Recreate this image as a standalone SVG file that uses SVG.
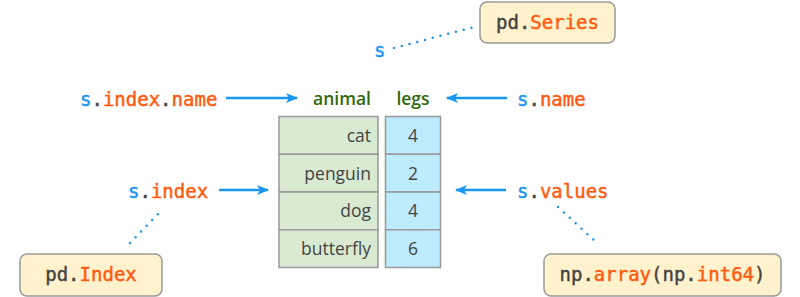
<svg xmlns="http://www.w3.org/2000/svg" width="800" height="297" viewBox="0 0 800 297">
<style>
.code{font-family:"DejaVu Sans Mono","Liberation Mono",monospace;font-size:19px;stroke-width:0.45}
.b{fill:#1a96f0;stroke:#1a96f0}.d{fill:#444;stroke:#444}.o{fill:#ff5a0f;stroke:#ff5a0f}
.hdr{font-family:"Open Sans","Noto Sans",sans-serif;font-size:17.5px;font-weight:600;fill:#2f6a0b}
.cell{font-family:"Open Sans","Noto Sans",sans-serif;font-size:17.5px;fill:#444}
.idx{fill:#d9ead3;stroke:#999;stroke-width:1.5}
.val{fill:#bdebff;stroke:#999;stroke-width:1.5}
.box{fill:#fff2cc;stroke:#999;stroke-width:1.5}
.arr{stroke:#1a96f0;stroke-width:2.5;fill:none}
.dot{stroke:#1a96f0;stroke-width:2.5;fill:none;stroke-dasharray:0 8;stroke-linecap:round}
</style>
<defs>
<marker id="ah" viewBox="0 0 12 10" refX="11" refY="5" markerWidth="12" markerHeight="10" markerUnits="userSpaceOnUse" orient="auto">
<path d="M0,0 L12,5 L0,10 L3,5 Z" fill="#1a96f0"/>
</marker>
</defs>
<g id="connectors">
<line class="arr" x1="226" y1="98" x2="297" y2="98" marker-end="url(#ah)"/>
<line class="arr" x1="507" y1="98" x2="447" y2="98" marker-end="url(#ah)"/>
<line class="arr" x1="219" y1="190" x2="268" y2="190" marker-end="url(#ah)"/>
<line class="arr" x1="506" y1="190" x2="456" y2="190" marker-end="url(#ah)"/>
<line class="dot" x1="394" y1="48" x2="474" y2="27"/>
<line class="dot" x1="130" y1="243" x2="158" y2="214"/>
<line class="dot" x1="558" y1="207" x2="597" y2="243"/>
</g>
<g id="table">
<rect class="idx" x="279" y="116.5" width="99" height="37.75"/>
<rect class="idx" x="279" y="154.25" width="99" height="37.75"/>
<rect class="idx" x="279" y="192" width="99" height="37.75"/>
<rect class="idx" x="279" y="229.75" width="99" height="37.75"/>
<rect class="val" x="385.5" y="116.5" width="55" height="37.75"/>
<rect class="val" x="385.5" y="154.25" width="55" height="37.75"/>
<rect class="val" x="385.5" y="192" width="55" height="37.75"/>
<rect class="val" x="385.5" y="229.75" width="55" height="37.75"/>
<text class="cell" x="371" y="141.5" text-anchor="end">cat</text>
<text class="cell" x="371" y="179.5" text-anchor="end">penguin</text>
<text class="cell" x="371" y="217" text-anchor="end">dog</text>
<text class="cell" x="371" y="255" text-anchor="end">butterfly</text>
<text class="cell" x="413" y="141.5" text-anchor="middle">4</text>
<text class="cell" x="413" y="179.5" text-anchor="middle">2</text>
<text class="cell" x="413" y="217" text-anchor="middle">4</text>
<text class="cell" x="413" y="255" text-anchor="middle">6</text>
<text class="hdr" x="342" y="105" text-anchor="middle">animal</text>
<text class="hdr" x="413" y="105" text-anchor="middle">legs</text>
</g>
<g id="s-index-name"><text class="code" x="80" y="106"><tspan class="b">s</tspan><tspan class="d">.</tspan><tspan class="o">index</tspan><tspan class="d">.</tspan><tspan class="o">name</tspan></text></g>
<g id="s-name"><text class="code" x="517" y="106"><tspan class="b">s</tspan><tspan class="d">.</tspan><tspan class="o">name</tspan></text></g>
<g id="s-index"><text class="code" x="128" y="198"><tspan class="b">s</tspan><tspan class="d">.</tspan><tspan class="o">index</tspan></text></g>
<g id="s-values"><text class="code" x="517" y="198"><tspan class="b">s</tspan><tspan class="d">.</tspan><tspan class="o">values</tspan></text></g>
<g id="s"><text class="code b" x="374" y="57">s</text></g>
<g id="pd-series">
<rect class="box" x="480" y="2" width="135" height="41" rx="7"/>
<text class="code" x="547.5" y="29" text-anchor="middle"><tspan class="d">pd.</tspan><tspan class="o">Series</tspan></text>
</g>
<g id="pd-index">
<rect class="box" x="20" y="254" width="142" height="42" rx="7"/>
<text class="code" x="91" y="281" text-anchor="middle"><tspan class="d">pd.</tspan><tspan class="o">Index</tspan></text>
</g>
<g id="np-array">
<rect class="box" x="544" y="254" width="237" height="42" rx="7"/>
<text class="code" x="662.5" y="281" text-anchor="middle"><tspan class="d">np.</tspan><tspan class="o">array</tspan><tspan class="d">(np.</tspan><tspan class="o">int64</tspan><tspan class="d">)</tspan></text>
</g>
</svg>
